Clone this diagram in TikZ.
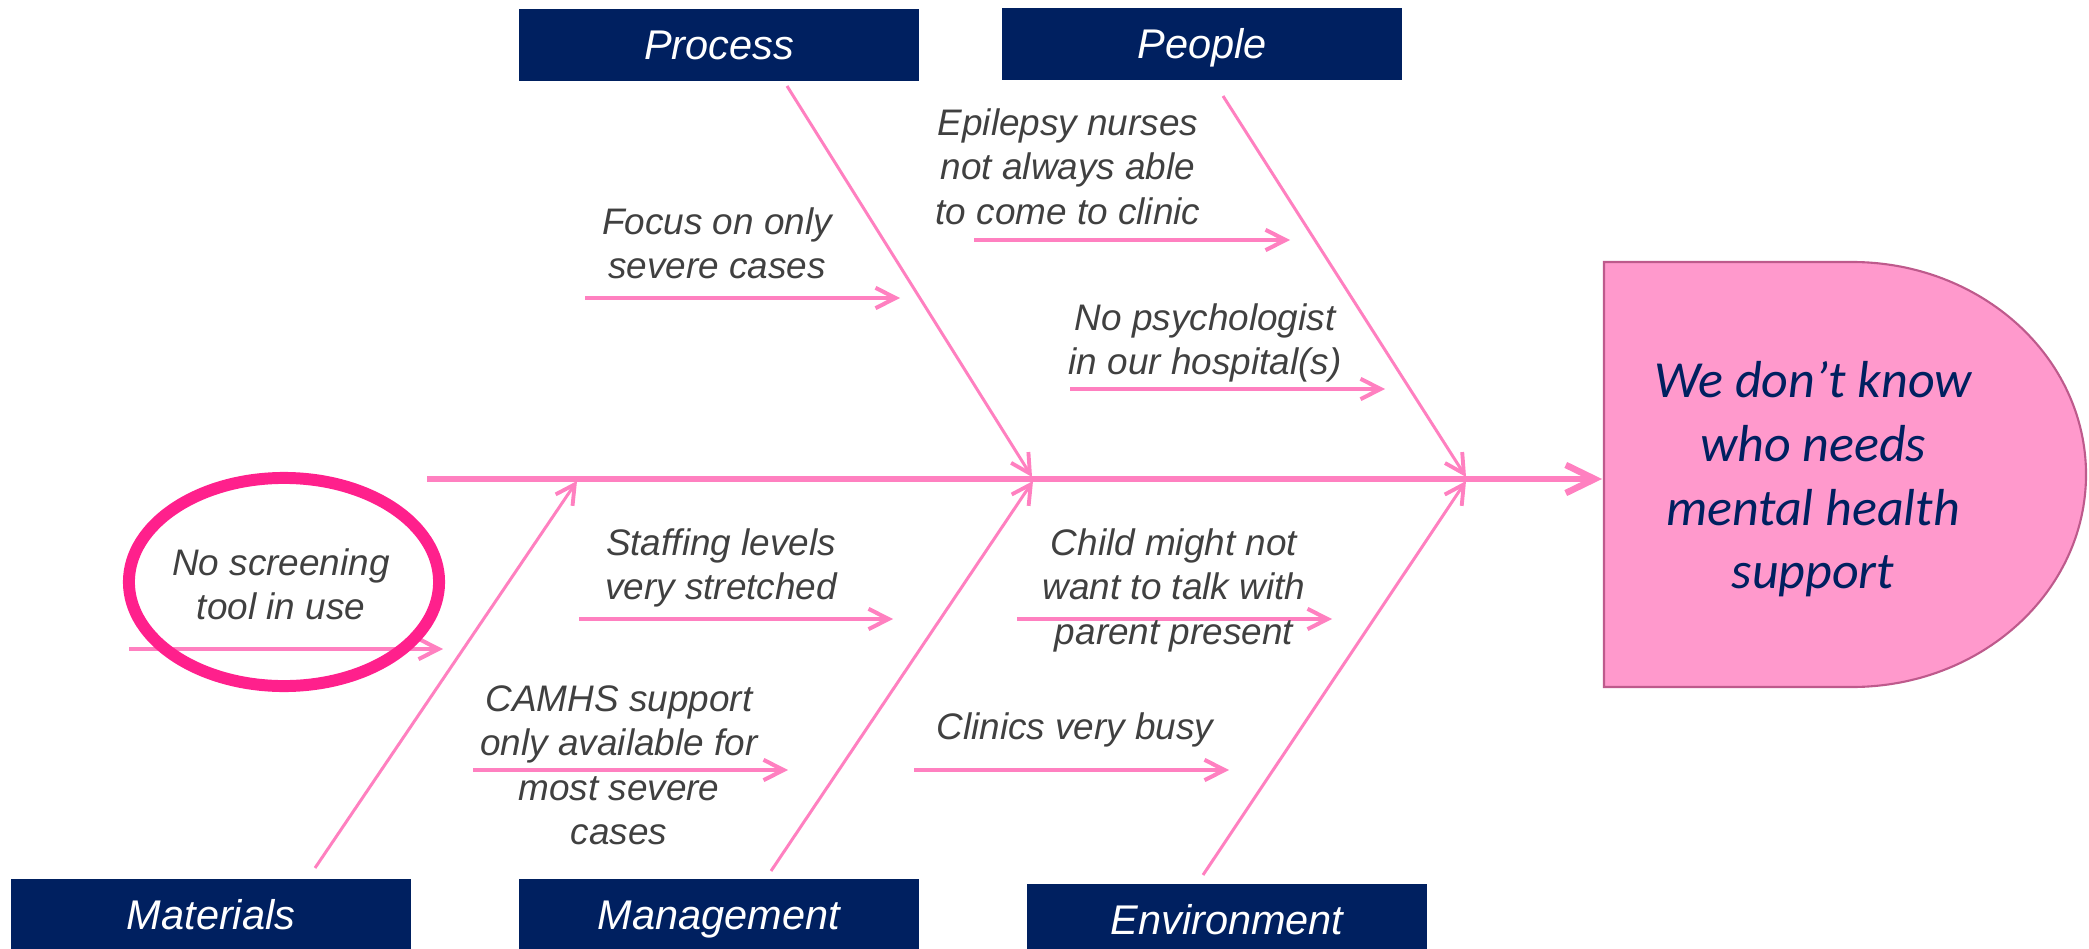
\documentclass[tikz,border=0pt]{standalone}
\usepackage{fontspec}
\usetikzlibrary{arrows.meta}
\newfontfamily\arialfont{Liberation Sans}
\newfontfamily\califont{Carlito}
\definecolor{navy}{RGB}{0,32,96}
\definecolor{linepink}{RGB}{255,128,192}
\definecolor{hotpink}{RGB}{255,32,140}
\definecolor{effectfill}{RGB}{255,153,204}
\definecolor{effectborder}{RGB}{190,90,140}
\definecolor{causegray}{RGB}{64,64,64}
\tikzset{
  header/.style={fill=navy, text=white, minimum width=4cm, minimum height=0.72cm,
    inner sep=0pt, text height=8.4pt, text depth=0pt,
    font=\arialfont\itshape\fontsize{11.8}{14}\selectfont},
  cause/.style={text=causegray, align=center, inner sep=0pt, anchor=north,
    font=\arialfont\itshape\fontsize{10.5}{12.6}\selectfont},
  bone/.style={draw=linepink, line width=0.85pt,
    -{Straight Barb[length=5.4pt,width=5.8pt,line width=1.1pt]}},
  causearrow/.style={draw=linepink, line width=1.15pt,
    -{Straight Barb[length=5.7pt,width=5.8pt]}},
  spine/.style={draw=linepink, line width=1.85pt,
    -{Straight Barb[length=8.2pt,width=8pt]}},
  effecttext/.style={text=navy, align=center, inner sep=0pt, anchor=north,
    font=\califont\itshape\fontsize{14.8}{18.1}\selectfont}
}
\begin{document}
\begin{tikzpicture}[x=0.01cm,y=-0.01cm]
\useasboundingbox (0,0) rectangle (2089,949);
% effect shape
\path[fill=effectfill, draw=effectborder, line width=0.6pt]
  (1604,262) -- (1852,262) .. controls (1981.2,262) and (2086,357.1) .. (2086,474.5)
  .. controls (2086,591.9) and (1981.2,687) .. (1852,687) -- (1604,687) -- cycle;
\node[effecttext] (effect) at (1813,361) {We don’t know\\who needs\\mental health\\support};
\coordinate (effectwest) at (1602,479);
% header boxes
\node[header] (process) at (719,45) {Process};
\node[header] (people) at (1202,44) {People};
\node[header] (materials) at (211,915) {Materials};
\node[header] (management) at (719,915) {Management};
\node[header] (environment) at (1227,920) {Environment};
% spine
\coordinate (spinestart) at (427,479);
\draw[spine] (spinestart) -- (effectwest);
% bones
\coordinate (bprocS) at (787,86);   \coordinate (bprocE) at (1032,477);
\coordinate (bpeopS) at (1223,96);  \coordinate (bpeopE) at (1466,477);
\coordinate (bmatS) at (315,868);   \coordinate (bmatE) at (577,481);
\coordinate (bmanS) at (771,871);   \coordinate (bmanE) at (1033,481);
\coordinate (benvS) at (1203,875);  \coordinate (benvE) at (1466,481);
\draw[bone] (bprocS) -- (bprocE);
\draw[bone] (bpeopS) -- (bpeopE);
\draw[bone] (bmatS) -- (bmatE);
\draw[bone] (bmanS) -- (bmanE);
\draw[bone] (benvS) -- (benvE);
% cause arrows
\coordinate (c1s) at (585,298);  \coordinate (c1e) at (900,298);
\coordinate (c2s) at (974,240);  \coordinate (c2e) at (1290,240);
\coordinate (c3s) at (1070,389); \coordinate (c3e) at (1385,389);
\coordinate (c4s) at (129,649);  \coordinate (c4e) at (443,649);
\coordinate (c5s) at (579,619);  \coordinate (c5e) at (893,619);
\coordinate (c6s) at (473,770);  \coordinate (c6e) at (788,770);
\coordinate (c7s) at (1017,619); \coordinate (c7e) at (1332,619);
\coordinate (c8s) at (914,770);  \coordinate (c8e) at (1229,770);
\foreach \i in {1,...,8} {\draw[causearrow] (c\i s) -- (c\i e);}
% cause texts
\node[cause] (t1) at (717,207) {Focus on only\\severe cases};
\node[cause] (t2) at (1068,108) {Epilepsy nurses\\not always able\\to come to clinic};
\node[cause] (t3) at (1205,303) {No psychologist\\in our hospital(s)};
\node[cause] (t4) at (281,548) {No screening\\tool in use};
\node[cause] (t5) at (721,528) {Staffing levels\\very stretched};
\node[cause] (t6) at (619,685) {CAMHS support\\only available for\\most severe\\cases};
\node[cause] (t7) at (1174,528) {Child might not\\want to talk with\\parent present};
\node[cause] (t8) at (1075,712) {Clinics very busy};
% highlight ellipse
\coordinate (ring) at (284,582);
\draw[hotpink, line width=3.4pt] (ring) ellipse[x radius=1.55cm, y radius=1.04cm];
\end{tikzpicture}
\end{document}
